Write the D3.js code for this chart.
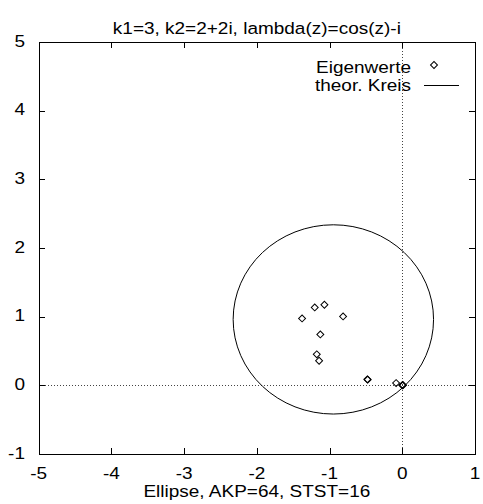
<!DOCTYPE html>
<html><head><meta charset="utf-8">
<script src="https://cdn.jsdelivr.net/npm/d3@7"></script>
<style>body{margin:0;background:#fff}svg{display:block}</style>
</head><body>
<svg id="c" width="483" height="504"></svg>
<script>
const title = "k1=3, k2=2+2i, lambda(z)=cos(z)-i";
const xLabel = "Ellipse, AKP=64, STST=16";
const xTicks = [-5, -4, -3, -2, -1, 0, 1];
const yTicks = [-1, 0, 1, 2, 3, 4, 5];
const eigRe = [-1.378, -1.204, -1.071, -0.814, -1.127, -1.176, -1.144, -0.480, -0.476, -0.085, 0.005, 0.0, 0.010];
const eigIm = [0.975, 1.135, 1.173, 1.004, 0.742, 0.451, 0.358, 0.087, 0.083, 0.033, 0.005, 0.0, 0.002];
const circleCenter = [-0.948, 0.96];
const circleRadius = 1.378;
const legendLabels = ["Eigenwerte", "theor. Kreis"];

const svg = d3.select("#c");
const L = 38.7, R = 475, T = 42, B = 454;
const x = d3.scaleLinear().domain([-5, 1]).range([L, R]);
const y = d3.scaleLinear().domain([-1, 5]).range([B, T]);
const FONT = "'Liberation Sans', Arial, Helvetica, sans-serif";
const FS = 19, VS = 0.86;

function txt(xp, yp, s, anchor) {
  svg.append("text")
    .attr("transform", `translate(${xp},${yp}) scale(1,${VS})`)
    .attr("text-anchor", anchor)
    .attr("font-family", FONT).attr("font-size", FS)
    .attr("fill", "#000").text(s);
}

// zero axes (dotted)
svg.append("line").attr("x1", x(0)).attr("x2", x(0)).attr("y1", T).attr("y2", B)
  .attr("stroke", "#444").attr("stroke-dasharray", "1,2").attr("shape-rendering", "crispEdges");
svg.append("line").attr("x1", L).attr("x2", R).attr("y1", y(0)).attr("y2", y(0))
  .attr("stroke", "#444").attr("stroke-dasharray", "1,2").attr("shape-rendering", "crispEdges");

// axes with inward ticks on all sides
const tk = 6;
svg.append("g").attr("transform", `translate(0,${B})`)
  .call(d3.axisBottom(x).tickValues(xTicks).tickSize(-tk).tickFormat(""));
svg.append("g").attr("transform", `translate(0,${T})`)
  .call(d3.axisTop(x).tickValues(xTicks).tickSize(-tk).tickFormat(""));
svg.append("g").attr("transform", `translate(${L},0)`)
  .call(d3.axisLeft(y).tickValues(yTicks).tickSize(-tk).tickFormat(""));
svg.append("g").attr("transform", `translate(${R},0)`)
  .call(d3.axisRight(y).tickValues(yTicks).tickSize(-tk).tickFormat(""));
svg.selectAll(".domain").attr("stroke", "#000").attr("shape-rendering", "crispEdges");
svg.selectAll(".tick line").attr("stroke", "#000").attr("shape-rendering", "crispEdges");

// tick labels
xTicks.forEach(v => txt(x(v), 478.5, String(v), "middle"));
yTicks.forEach(v => txt(25, y(v) + 4.8, String(v), "end"));

// titles
txt((L + R) / 2, 34, title, "middle");
txt((L + R) / 2, 497, xLabel, "middle");

// theoretical circle
svg.append("ellipse")
  .attr("cx", x(circleCenter[0])).attr("cy", y(circleCenter[1]))
  .attr("rx", x(circleCenter[0] + circleRadius) - x(circleCenter[0]))
  .attr("ry", y(circleCenter[1]) - y(circleCenter[1] + circleRadius))
  .attr("fill", "none").attr("stroke", "#000").attr("stroke-width", 1);

// eigenvalues
const diamond = d3.symbol().type(d3.symbolSquare).size(24);
svg.append("g").selectAll("path").data(eigRe.map((v, i) => [v, eigIm[i]])).join("path")
  .attr("d", diamond)
  .attr("transform", d => `translate(${x(d[0])},${y(d[1])}) rotate(45)`)
  .attr("fill", "none").attr("stroke", "#000").attr("stroke-width", 1);

// legend
txt(411, 72.7, legendLabels[0], "end");
txt(411, 90.7, legendLabels[1], "end");
svg.append("path").attr("d", diamond)
  .attr("transform", "translate(434,65) rotate(45)")
  .attr("fill", "none").attr("stroke", "#000").attr("stroke-width", 1);
svg.append("line").attr("x1", 424).attr("x2", 459).attr("y1", 85.5).attr("y2", 85.5)
  .attr("stroke", "#000").attr("stroke-width", 1);
</script>
</body></html>
